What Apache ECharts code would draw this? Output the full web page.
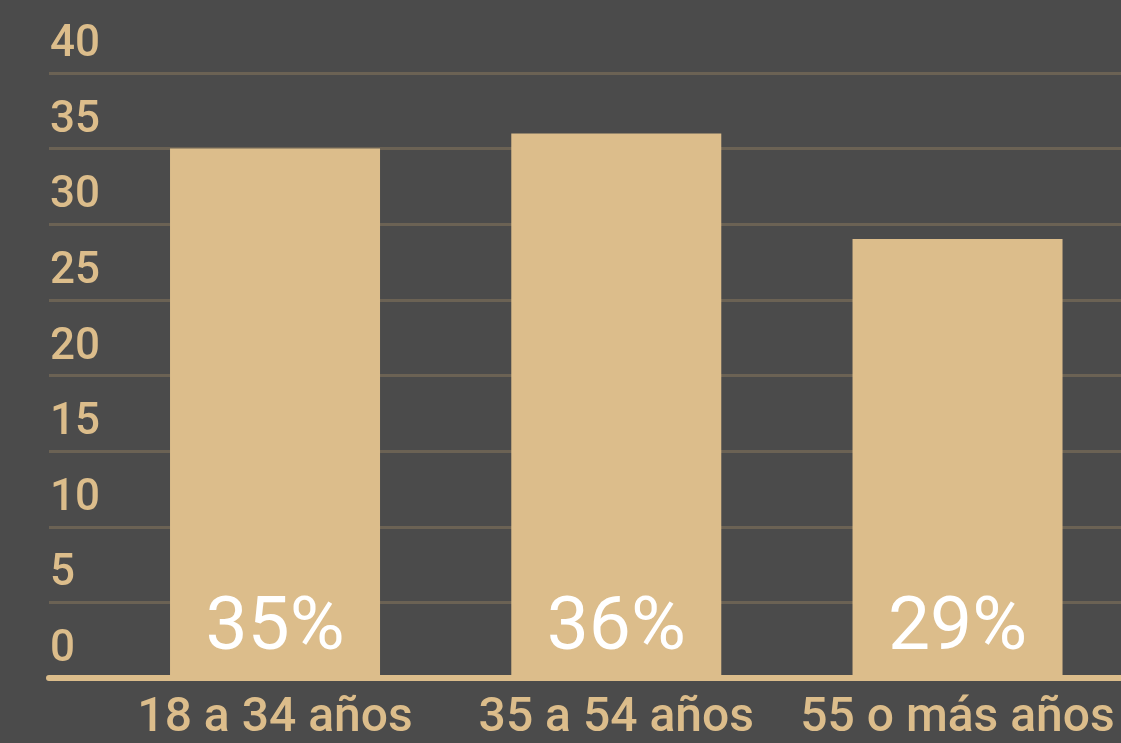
<!DOCTYPE html>
<html>
<head>
<meta charset="utf-8">
<script src="https://cdn.jsdelivr.net/npm/echarts@6/dist/echarts.min.js"></script>
<style>
  html, body { margin: 0; padding: 0; background: #4b4b4b; overflow: hidden; }
  #chart { width: 1130px; height: 743px; }
</style>
</head>
<body>
<div id="chart"></div>
<script>
// datos del gráfico
const categorias = ['18 a 34 años', '35 a 54 años', '55 o más años'];
const porcentajes = [35, 36, 29];
const yMax = 40;
const yPaso = 5;

const tan = '#dcbd8b';
const chart = echarts.init(document.getElementById('chart'));

const option = {
    backgroundColor: '#4b4b4b',
    textStyle: { fontFamily: 'Roboto' },
    grid: [
        // rejilla de fondo (líneas y eje)
        { left: 49, right: 0, top: 73, bottom: 65 },
        // rejilla de las barras (se sale un poco del borde derecho)
        { left: 104.4, width: 1023.75, top: 73, bottom: 65 }
    ],
    xAxis: [{
        type: 'category',
        gridIndex: 0,
        data: [''],
        axisLine: { lineStyle: { color: tan, width: 6 } },
        axisTick: { show: false },
        axisLabel: { show: false }
    }, {
        type: 'category',
        gridIndex: 1,
        data: categorias,
        axisLine: { show: false },
        axisTick: { show: false },
        axisLabel: {
            color: tan,
            fontSize: 48,
            fontWeight: 500,
            margin: 18,
            interval: 0,
            hideOverlap: false
        }
    }],
    yAxis: [{
        type: 'value',
        gridIndex: 0,
        min: 0,
        max: yMax,
        interval: yPaso,
        axisLine: { show: false },
        axisTick: { show: false },
        splitLine: { lineStyle: { color: '#6b6254', width: 3 } },
        axisLabel: {
            inside: true,
            margin: 1,
            verticalAlign: 'bottom',
            padding: [0, 0, 6, 0],
            color: tan,
            fontSize: 44,
            fontWeight: 500
        }
    }, {
        type: 'value',
        gridIndex: 1,
        min: 0,
        max: yMax,
        interval: yPaso,
        show: false,
        splitLine: { show: false }
    }],
    series: [{
        type: 'bar',
        xAxisIndex: 1,
        yAxisIndex: 1,
        data: porcentajes,
        barWidth: 210,
        itemStyle: { color: tan },
        label: {
            show: true,
            position: 'insideBottom',
            distance: 9,
            formatter: '{c}%',
            color: '#ffffff',
            fontSize: 75
        }
    }]
};
chart.setOption(option);
</script>
</body>
</html>
